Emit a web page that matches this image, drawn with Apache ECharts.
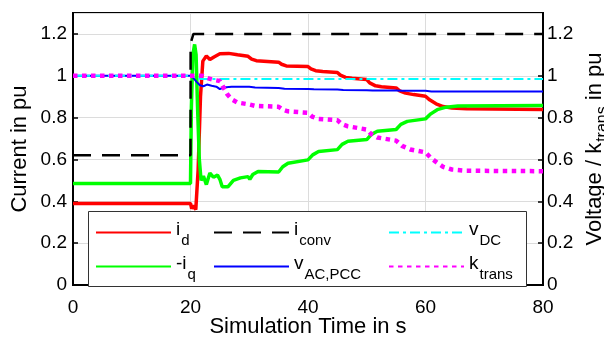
<!DOCTYPE html>
<html><head><meta charset="utf-8">
<script src="https://cdn.jsdelivr.net/npm/echarts@6/dist/echarts.min.js"></script>
<style>html,body{margin:0;padding:0;background:#fff}#c{width:604px;height:339px}</style>
</head><body><div id="c"></div>
<script>
// ---- data (time in s, value in pu) ----
const xTicks = [0, 20, 40, 60, 80];
const yTicks = [0, 0.2, 0.4, 0.6, 0.8, 1, 1.2];
const idData = [[0,0.39],[20,0.39],[20.2,0.365],[20.5,0.38],[20.9,0.36],[21.3,0.55],[21.7,0.9],[22.1,1.07],[22.7,1.095],[23.3,1.078],[24,1.09],[25,1.105],[26.5,1.107],[28,1.1],[29.8,1.093],[30.4,1.08],[31.2,1.072],[35,1.065],[35.5,1.055],[36.3,1.047],[40,1.044],[40.5,1.033],[41.3,1.024],[42.5,1.02],[45,1.016],[45.5,1.003],[46.4,0.992],[47.5,0.988],[50,0.982],[50.5,0.966],[51.5,0.952],[52.5,0.948],[55,0.942],[55.6,0.928],[56.6,0.917],[58,0.91],[60,0.902],[60.7,0.885],[61.8,0.866],[63,0.853],[64.5,0.846],[67,0.842],[80,0.839]];
const iqData = [[0,0.485],[20,0.485],[20.15,0.85],[20.4,1.1],[20.7,1.15],[20.95,1.1],[21.2,0.85],[21.5,0.6],[21.8,0.5],[22.2,0.52],[22.7,0.48],[23.3,0.535],[23.9,0.515],[24.6,0.525],[25,0.505],[25.4,0.47],[26.4,0.47],[27.3,0.5],[28.5,0.512],[29.8,0.518],[30.1,0.505],[30.6,0.528],[31.5,0.543],[35,0.54],[35.15,0.535],[35.7,0.565],[36.6,0.582],[40,0.598],[40.15,0.593],[40.8,0.622],[41.8,0.638],[45,0.647],[45.15,0.642],[45.8,0.672],[46.8,0.687],[50,0.695],[50.15,0.69],[50.8,0.72],[51.8,0.735],[55,0.743],[55.15,0.738],[55.8,0.768],[56.9,0.782],[60,0.794],[60.15,0.79],[60.9,0.818],[62,0.838],[63.5,0.85],[65.5,0.856],[80,0.858]];
const iconvData = [[0,0.62],[20,0.62],[20.02,1.155],[20.5,1.2],[80,1.2]];
const vacData = [[0,1.0],[20,1.0],[20.4,0.992],[21,0.972],[21.6,0.955],[22.2,0.95],[22.8,0.958],[23.6,0.952],[24.4,0.948],[25,0.936],[25.6,0.944],[27,0.947],[30,0.947],[30.2,0.94],[31,0.944],[35,0.942],[35.2,0.935],[36,0.938],[40,0.937],[40.2,0.931],[41,0.935],[45,0.934],[45.2,0.928],[46,0.932],[50,0.931],[50.2,0.926],[51,0.93],[55,0.93],[55.2,0.925],[56,0.928],[60,0.928],[60.2,0.922],[61,0.925],[80,0.925]];
const vdcData = [[0,1.0],[20,1.0],[20.5,0.995],[21,0.988],[21.8,0.985],[80,0.985]];
const ktransData = [[0,1.0],[22,1.0],[22.8,0.99],[24,0.98],[25,0.975],[25.6,0.945],[26.3,0.91],[27,0.888],[28,0.872],[30,0.863],[31,0.856],[35,0.852],[35.7,0.838],[36.6,0.83],[40,0.823],[40.7,0.805],[41.7,0.794],[45,0.788],[45.7,0.77],[46.7,0.759],[50,0.743],[50.8,0.72],[51.8,0.705],[55,0.69],[56,0.665],[57.4,0.648],[60,0.634],[61,0.605],[62,0.584],[63,0.565],[64.5,0.552],[67,0.546],[80,0.544]];
const legendCol1 = ['i_d', '-i_q'];
const legendCol2 = ['i_conv', 'v_AC,PCC'];
const legendCol3 = ['v_DC', 'k_trans'];

const FONT = 'Liberation Sans, Arial, sans-serif';
const chart = echarts.init(document.getElementById('c'), null, {renderer: 'canvas'});

function subFmt(name) {
  const k = name.indexOf('_');
  return '{m|' + name.slice(0, k) + '}{s|' + name.slice(k + 1) + '}';
}
const legRich = {
  m: {fontSize: 19, fontFamily: FONT, color: '#000', padding: [0, 0, 6, 0]},
  s: {fontSize: 15, fontFamily: FONT, color: '#000', padding: [16, 0, 0, 1]}
};
function mkLegend(data, left) {
  return {
    data: data, orient: 'vertical', left: left, top: 220, padding: 0,
    itemWidth: 75, itemHeight: 14, itemGap: 6,
    formatter: subFmt,
    itemStyle: {opacity: 0},
    textStyle: {rich: legRich, color: '#000', fontFamily: FONT},
    z: 10
  };
}
const yLabel = {
  fontSize: 19, fontFamily: FONT, color: '#000', showMaxLabel: false,
  formatter: v => (yTicks.some(t => Math.abs(t - v) < 1e-6) ? String(+v.toFixed(1)) : '')
};
function ser(name, data, color, width, type, z) {
  return {
    name: name, type: 'line', data: data, symbol: 'none', showSymbol: false,
    lineStyle: {color: color, width: width, type: type, cap: 'butt'},
    itemStyle: {color: color}, z: z, animation: false
  };
}

chart.setOption({
  animation: false,
  grid: {left: 73, right: 61, top: 13, bottom: 54, show: true, borderColor: '#000', borderWidth: 2,
    backgroundColor: 'transparent', containLabel: false, outerBoundsMode: 'none'},
  xAxis: {
    type: 'value', min: 0, max: 80, interval: 20,
    name: 'Simulation Time in s', nameLocation: 'middle', nameGap: 31, nameMoveOverlap: false,
    nameTextStyle: {fontSize: 22, fontFamily: FONT, color: '#000'},
    axisLine: {show: true, lineStyle: {color: '#000', width: 2}},
    axisTick: {show: true, inside: true, length: 5, lineStyle: {color: '#000', width: 1.5}},
    axisLabel: {fontSize: 19, fontFamily: FONT, color: '#000', margin: 13},
    splitLine: {show: true, lineStyle: {color: '#dcdcdc', width: 1}}
  },
  yAxis: [{
    type: 'value', min: 0, max: 1.3, interval: 0.2, position: 'left',
    name: 'Current in pu', nameLocation: 'middle', nameGap: 42, nameRotate: 90, nameMoveOverlap: false,
    nameTextStyle: {fontSize: 22, fontFamily: FONT, color: '#000'},
    axisLine: {show: true, lineStyle: {color: '#000', width: 2}},
    axisTick: {show: true, inside: true, length: 5, lineStyle: {color: '#000', width: 1.5}},
    axisLabel: Object.assign({margin: 6}, yLabel),
    splitLine: {show: true, lineStyle: {color: '#dcdcdc', width: 1}}
  }, {
    type: 'value', min: 0, max: 1.3, interval: 0.2, position: 'right',
    name: 'Voltage / k{s|trans} in pu', nameLocation: 'middle', nameGap: 36, nameRotate: 90, nameMoveOverlap: false,
    nameTextStyle: {fontSize: 22, fontFamily: FONT, color: '#000',
      rich: {s: {fontSize: 16, fontFamily: FONT, color: '#000', padding: [16, 0, 0, 1]}}},
    axisLine: {show: true, lineStyle: {color: '#000', width: 2}},
    axisTick: {show: true, inside: true, length: 5, lineStyle: {color: '#000', width: 1.5}},
    axisLabel: Object.assign({margin: 4}, yLabel),
    splitLine: {show: false}
  }],
  legend: [mkLegend(legendCol1, 95), mkLegend(legendCol2, 213), mkLegend(legendCol3, 388)],
  graphic: [{
    type: 'rect', z: 8, zlevel: 0,
    shape: {x: 88.5, y: 211.5, width: 438, height: 75},
    style: {fill: '#fff', stroke: '#333', lineWidth: 1}
  }],
  series: [
    ser('i_d', idData, '#ff0000', 3.5, 'solid', 2),
    ser('-i_q', iqData, '#00ff00', 3.5, 'solid', 3),
    ser('i_conv', iconvData, '#000000', 2.5, [18, 11], 4),
    ser('v_AC,PCC', vacData, '#0000ff', 2, 'solid', 5),
    ser('v_DC', vdcData, '#00ffff', 2, [10, 4, 3, 4], 6),
    ser('k_trans', ktransData, '#ff00ff', 4.5, [4.5, 4.5], 7)
  ]
});
</script></body></html>
